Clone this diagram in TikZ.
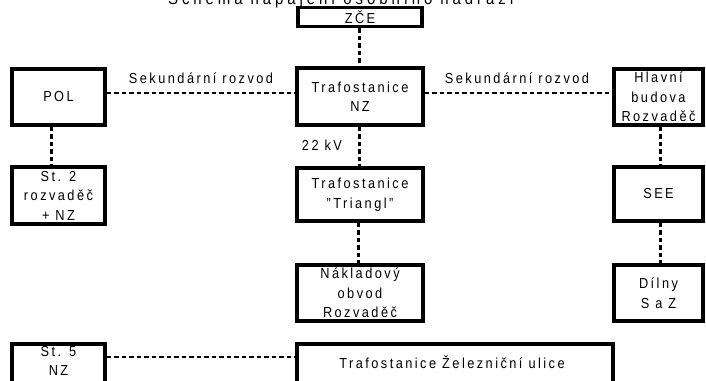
\documentclass[tikz,border=0pt]{standalone}
\usepackage{fontspec}
\setmainfont{Liberation Sans}[LetterSpace=17, FakeStretch=0.88]
\newfontfamily\titlefont{Liberation Sans}[LetterSpace=23, FakeStretch=0.88]
\begin{document}
\begin{tikzpicture}[x=1pt,y=-1pt,
  box/.style={draw, line width=3.6pt, inner sep=0pt, align=center,
    font=\fontsize{14.5}{19.5}\selectfont},
  lbl/.style={inner sep=0pt, font=\fontsize{14.5}{19}\selectfont},
  hline/.style={line width=2.2pt, dash pattern=on 4.5pt off 3pt},
  vline/.style={line width=3pt, dash pattern=on 4.5pt off 3pt}]
\useasboundingbox (0,0) rectangle (706,380);
% title (cut off at the top)
\node[inner sep=0pt, anchor=base, font=\titlefont\fontsize{17}{20}\selectfont] (title) at (341,5) {Schéma napájení osobního nádraží};
% boxes
\node[box, minimum width=124pt, minimum height=19pt] (zce) at (360,17) {ZČE};
\node[box, minimum width=126pt, minimum height=57pt] (nz) at (360,96.5) {Trafostanice\\NZ};
\node[box, minimum width=93pt, minimum height=56pt] (pol) at (58.5,97) {POL};
\node[box, minimum width=89pt, minimum height=56pt] (hb) at (658.5,97) {Hlavní\\budova\\Rozvaděč};
\node[box, minimum width=93pt, minimum height=57pt] (st2) at (58.5,195.5) {St. 2\\rozvaděč\\+ NZ};
\node[box, minimum width=126pt, minimum height=53pt] (tri) at (360,194.5) {Trafostanice\\"Triangl"};
\node[box, minimum width=89pt, minimum height=54pt] (see) at (658.5,194) {SEE};
\node[box, minimum width=126pt, minimum height=56pt] (nak) at (360,293) {Nákladový\\obvod\\Rozvaděč};
\node[box, minimum width=89pt, minimum height=56pt] (dil) at (658.5,293) {Dílny\\S a Z};
\node[box, minimum width=93pt, minimum height=54pt] (st5) at (58.5,371) {};
\node[box, minimum width=316pt, minimum height=54pt] (zel) at (455,371) {};
\node[lbl, align=center] (st5t) at (58.5,361) {St. 5\\NZ};
\node[lbl] (zelt) at (452,362) {Trafostanice Železniční ulice};
% labels
\node[lbl] (l1) at (201,78) {Sekundární rozvod};
\node[lbl] (l2) at (517,78) {Sekundární rozvod};
\node[lbl] (l3) at (322,145) {22 kV};
% connectors
\draw[hline] ([yshift=4pt]pol.east) -- ([yshift=4pt]pol.east -| nz.west);
\draw[hline] ([yshift=3.5pt]nz.east) -- ([yshift=3.5pt]nz.east -| hb.west);
\draw[hline] ([yshift=14pt]st5.east) -- ([yshift=14pt]st5.east -| zel.west);
\draw[vline] ([xshift=-1pt]zce.south) -- ([xshift=-1pt]zce.south |- nz.north);
\draw[vline] ([xshift=-7.5pt]pol.south) -- ([xshift=-7.5pt]pol.south |- st2.north);
\draw[vline] ([xshift=-1pt]nz.south) -- ([xshift=-1pt]nz.south |- tri.north);
\draw[vline] ([xshift=-2pt]tri.south) -- ([xshift=-2pt]tri.south |- nak.north);
\draw[vline] ([xshift=1.5pt]hb.south) -- ([xshift=1.5pt]hb.south |- see.north);
\draw[vline] ([xshift=1.5pt]see.south) -- ([xshift=1.5pt]see.south |- dil.north);
\end{tikzpicture}
\end{document}
